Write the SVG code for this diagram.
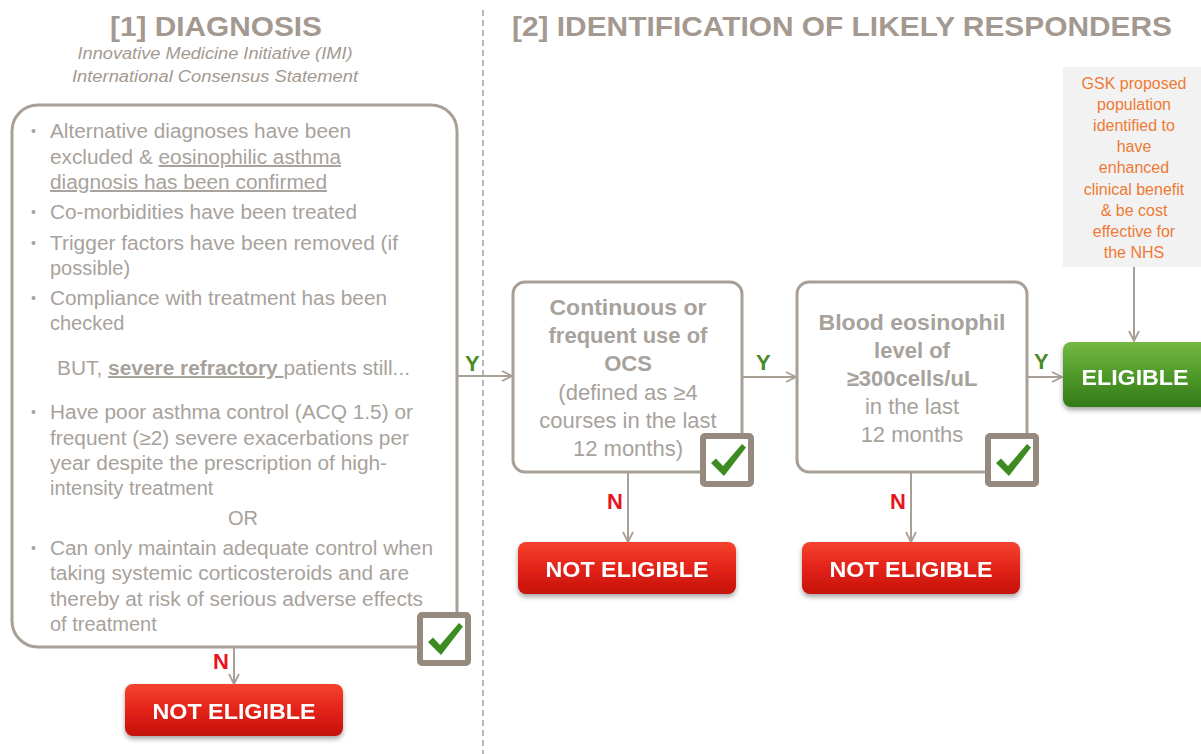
<svg xmlns="http://www.w3.org/2000/svg" width="1201" height="754" viewBox="0 0 1201 754">
<style>
.hd{font-family:"Liberation Sans",Arial,sans-serif;font-weight:bold;font-size:28px;fill:#a39990}
.sub{font-family:"Liberation Sans",Arial,sans-serif;font-style:italic;font-size:16px;fill:#a39990}
.body{font-family:"Liberation Sans",Arial,sans-serif;font-size:20px;fill:#a8a29c}
.bul{font-family:"Liberation Sans",Arial,sans-serif;font-size:14px;fill:#a8a29c}
.box{fill:#fff;stroke:#a89f96;stroke-width:3}
.bt{font-family:"Liberation Sans",Arial,sans-serif;font-size:22px;fill:#a8a29c;text-anchor:middle}
.b{font-weight:bold}
.btn{font-family:"Liberation Sans",Arial,sans-serif;font-weight:bold;font-size:22px;fill:#fff;text-anchor:middle}
.gsk{font-family:"Liberation Sans",Arial,sans-serif;font-size:16px;fill:#ee7a35;text-anchor:middle}
.yl{font-family:"Liberation Sans",Arial,sans-serif;font-weight:bold;font-size:22px;fill:#4b8b27}
.nl{font-family:"Liberation Sans",Arial,sans-serif;font-weight:bold;font-size:22px;fill:#e8141c}
.conn{stroke:#a89f96;stroke-width:2;fill:none}
.ck-frame{fill:#fff;stroke:#968a7e;stroke-width:6}
.ck{fill:#3d8c22}
</style>
<defs>
<marker id="arr" viewBox="0 0 12 12" refX="11" refY="6" markerWidth="12" markerHeight="12" markerUnits="userSpaceOnUse" orient="auto">
<path d="M1,1 L11,6 L1,11" fill="none" stroke="#a89f96" stroke-width="1.8"/>
</marker>
<linearGradient id="red" x1="0" y1="0" x2="0" y2="1">
<stop offset="0" stop-color="#f5432e"/>
<stop offset="0.5" stop-color="#e3231a"/>
<stop offset="1" stop-color="#c41208"/>
</linearGradient>
<linearGradient id="green" x1="0" y1="0" x2="0" y2="1">
<stop offset="0" stop-color="#74b843"/>
<stop offset="0.5" stop-color="#4f9a2a"/>
<stop offset="1" stop-color="#347a18"/>
</linearGradient>
<filter id="sh" x="-10%" y="-20%" width="120%" height="150%">
<feDropShadow dx="0" dy="3" stdDeviation="2.5" flood-color="#000" flood-opacity="0.35"/>
</filter>
<g id="check">
<rect class="ck-frame" x="3" y="3" width="48" height="48" rx="2"/>
<path class="ck" d="M11,30 L16,25.5 L23,33 L42,11 L46,14.5 L24,43 Z"/>
</g>
</defs>

<rect width="1201" height="754" fill="#fff"/>

<line x1="483" y1="10" x2="483" y2="754" stroke="#a0a0a0" stroke-width="1.5" stroke-dasharray="6,4"/>

<g id="headings">
<text class="hd" x="216" y="36" text-anchor="middle" textLength="212" lengthAdjust="spacingAndGlyphs">[1] DIAGNOSIS</text>
<text class="sub" x="215" y="59" text-anchor="middle" textLength="275" lengthAdjust="spacingAndGlyphs">Innovative Medicine Initiative (IMI)</text>
<text class="sub" x="215" y="82" text-anchor="middle" textLength="286" lengthAdjust="spacingAndGlyphs">International Consensus Statement</text>
<text class="hd" x="512" y="36" textLength="660" lengthAdjust="spacingAndGlyphs">[2] IDENTIFICATION OF LIKELY RESPONDERS</text>
</g>

<g id="connectors">
<line class="conn" x1="457" y1="376" x2="512" y2="376" marker-end="url(#arr)"/>
<line class="conn" x1="234" y1="647" x2="234" y2="684" marker-end="url(#arr)"/>
<line class="conn" x1="742" y1="377" x2="796" y2="377" marker-end="url(#arr)"/>
<line class="conn" x1="628" y1="472" x2="628" y2="542" marker-end="url(#arr)"/>
<line class="conn" x1="1027" y1="377" x2="1062" y2="377" marker-end="url(#arr)"/>
<line class="conn" x1="911" y1="472" x2="911" y2="542" marker-end="url(#arr)"/>
<line class="conn" x1="1134" y1="267" x2="1134" y2="341" marker-end="url(#arr)"/>
<text class="yl" x="465" y="371">Y</text>
<text class="yl" x="756" y="370">Y</text>
<text class="yl" x="1034" y="369">Y</text>
<text class="nl" x="213" y="669">N</text>
<text class="nl" x="607" y="509">N</text>
<text class="nl" x="890" y="509">N</text>
</g>

<g id="diagnosis">
<rect class="box" x="12" y="105" width="445" height="542" rx="26"/>
<text class="bul" x="31" y="136">•</text>
<text class="body" x="50" y="138" textLength="301" lengthAdjust="spacingAndGlyphs">Alternative diagnoses have been</text>
<text class="body" x="50" y="164" textLength="291" lengthAdjust="spacingAndGlyphs">excluded &amp; <tspan text-decoration="underline">eosinophilic asthma</tspan></text>
<text class="body" x="50" y="189" textLength="277" lengthAdjust="spacingAndGlyphs" text-decoration="underline">diagnosis has been confirmed</text>
<text class="bul" x="31" y="217">•</text>
<text class="body" x="50" y="219" textLength="307" lengthAdjust="spacingAndGlyphs">Co-morbidities have been treated</text>
<text class="bul" x="31" y="248">•</text>
<text class="body" x="50" y="250" textLength="348" lengthAdjust="spacingAndGlyphs">Trigger factors have been removed (if</text>
<text class="body" x="50" y="275">possible)</text>
<text class="bul" x="31" y="303">•</text>
<text class="body" x="50" y="305" textLength="337" lengthAdjust="spacingAndGlyphs">Compliance with treatment has been</text>
<text class="body" x="50" y="330">checked</text>
<text class="body" x="57" y="375" textLength="353" lengthAdjust="spacingAndGlyphs">BUT, <tspan class="b" text-decoration="underline">severe refractory </tspan>patients still...</text>
<text class="bul" x="31" y="417">•</text>
<text class="body" x="50" y="419" textLength="363" lengthAdjust="spacingAndGlyphs">Have poor asthma control (ACQ 1.5) or</text>
<text class="body" x="50" y="445" textLength="359" lengthAdjust="spacingAndGlyphs">frequent (≥2) severe exacerbations per</text>
<text class="body" x="50" y="470" textLength="337" lengthAdjust="spacingAndGlyphs">year despite the prescription of high-</text>
<text class="body" x="50" y="495">intensity treatment</text>
<text class="body" x="243" y="525" text-anchor="middle">OR</text>
<text class="bul" x="31" y="553">•</text>
<text class="body" x="50" y="555" textLength="383" lengthAdjust="spacingAndGlyphs">Can only maintain adequate control when</text>
<text class="body" x="50" y="580" textLength="359" lengthAdjust="spacingAndGlyphs">taking systemic corticosteroids and are</text>
<text class="body" x="50" y="606" textLength="373" lengthAdjust="spacingAndGlyphs">thereby at risk of serious adverse effects</text>
<text class="body" x="50" y="631">of treatment</text>
<use href="#check" x="417" y="612"/>
</g>

<g id="not-eligible-1" filter="url(#sh)">
<rect x="125" y="684" width="218" height="52" rx="8" fill="url(#red)"/>
<text class="btn" x="234" y="719" textLength="163" lengthAdjust="spacingAndGlyphs">NOT ELIGIBLE</text>
</g>

<g id="ocs">
<rect class="box" x="513" y="282" width="229" height="190" rx="12"/>
<text class="bt b" x="628" y="315" textLength="157" lengthAdjust="spacingAndGlyphs">Continuous or</text>
<text class="bt b" x="628" y="343">frequent use of</text>
<text class="bt b" x="628" y="371">OCS</text>
<text class="bt" x="628" y="400">(defined as ≥4</text>
<text class="bt" x="628" y="428">courses in the last</text>
<text class="bt" x="628" y="456">12 months)</text>
<use href="#check" x="700" y="433"/>
</g>

<g id="not-eligible-2" filter="url(#sh)">
<rect x="518" y="542" width="218" height="52" rx="8" fill="url(#red)"/>
<text class="btn" x="627" y="577" textLength="163" lengthAdjust="spacingAndGlyphs">NOT ELIGIBLE</text>
</g>

<g id="blood">
<rect class="box" x="797" y="282" width="230" height="190" rx="12"/>
<text class="bt b" x="912" y="330" textLength="187" lengthAdjust="spacingAndGlyphs">Blood eosinophil</text>
<text class="bt b" x="912" y="358">level of</text>
<text class="bt b" x="912" y="386">≥300cells/uL</text>
<text class="bt" x="912" y="414">in the last</text>
<text class="bt" x="912" y="442">12 months</text>
<use href="#check" x="985" y="433"/>
</g>

<g id="not-eligible-3" filter="url(#sh)">
<rect x="802" y="542" width="218" height="52" rx="8" fill="url(#red)"/>
<text class="btn" x="911" y="577" textLength="163" lengthAdjust="spacingAndGlyphs">NOT ELIGIBLE</text>
</g>

<g id="eligible" filter="url(#sh)">
<rect x="1063" y="342" width="146" height="65" rx="8" fill="url(#green)"/>
<text class="btn" x="1135" y="385" textLength="107" lengthAdjust="spacingAndGlyphs">ELIGIBLE</text>
</g>

<g id="gsk">
<rect x="1063" y="67" width="138" height="200" fill="#f2f2f2"/>
<text class="gsk" x="1134" y="89">GSK proposed</text>
<text class="gsk" x="1134" y="110">population</text>
<text class="gsk" x="1134" y="131">identified to</text>
<text class="gsk" x="1134" y="152">have</text>
<text class="gsk" x="1134" y="173">enhanced</text>
<text class="gsk" x="1134" y="195">clinical benefit</text>
<text class="gsk" x="1134" y="216">&amp; be cost</text>
<text class="gsk" x="1134" y="237">effective for</text>
<text class="gsk" x="1134" y="258">the NHS</text>
</g>
</svg>
